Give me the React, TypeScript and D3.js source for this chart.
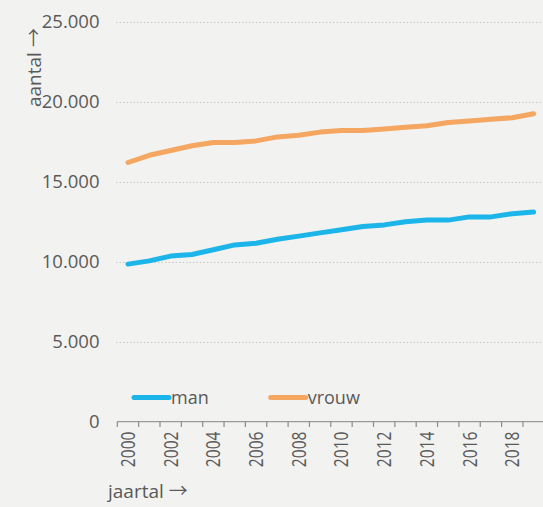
import React from "react";
import * as d3 from "d3";

const years = [2000, 2001, 2002, 2003, 2004, 2005, 2006, 2007, 2008, 2009, 2010, 2011, 2012, 2013, 2014, 2015, 2016, 2017, 2018, 2019];
const man = [9850, 10050, 10350, 10450, 10750, 11050, 11150, 11400, 11600, 11800, 12000, 12200, 12300, 12500, 12600, 12600, 12800, 12800, 13000, 13100];
const vrouw = [16200, 16650, 16950, 17250, 17450, 17450, 17550, 17800, 17900, 18100, 18200, 18200, 18300, 18400, 18500, 18700, 18800, 18900, 19000, 19250];
const yTicks = [0, 5000, 10000, 15000, 20000, 25000];
const seriesNames = ["man", "vrouw"];
const xTitle = "jaartal";
const yTitle = "aantal";
const arrow = "→";

const W = 543;
const H = 507;
const BG = "#f2f2f0";
const TEXT = "#595959";
const COLORS = ["#1cb5e9", "#f5a661"];
const FONT = "'Open Sans', sans-serif";
const ARROW_FONT = "'Noto Sans CJK SC', 'DejaVu Sans', sans-serif";

export default function App() {
  const x = d3.scaleBand<number>().domain(years).range([117.3, 544.3]).paddingInner(0).paddingOuter(0);
  const y = d3.scaleLinear().domain([0, 25000]).range([421.7, 21.7]);
  const fmt = (v: number) => d3.format(",")(v).replace(/,/g, ".");
  const line = d3
    .line<number>()
    .x((_, i) => (x(years[i]) as number) + x.bandwidth() / 2)
    .y((d) => y(d))
    .curve(d3.curveLinear);
  const series = [man, vrouw];
  const legendX = [134, 270.7];
  const legendY = 397.5;

  return (
    <div style={{ position: "fixed", left: 0, top: 0, width: W, height: H }}>
      <svg width={W} height={H} style={{ display: "block", fontFamily: FONT }}>
        <rect x={0} y={0} width={W} height={H} fill={BG} />
        {yTicks.filter((t) => t > 0).map((t) => (
          <line key={t} x1={116} x2={W} y1={Math.round(y(t)) + 0.5} y2={Math.round(y(t)) + 0.5} stroke="#c8c8c8" strokeWidth={1} strokeDasharray="1.5,2" />
        ))}
        {yTicks.map((t) => (
          <text key={t} x={99.5} y={y(t)} dy="0.36em" textAnchor="end" fontSize={18.5} fill={TEXT}>
            {fmt(t)}
          </text>
        ))}
        <line x1={117} x2={W} y1={421.7} y2={421.7} stroke="#9a9a9a" strokeWidth={1.3} />
        {years.map((yr) => (
          <line key={yr} x1={(x(yr) as number)} x2={(x(yr) as number)} y1={421.7} y2={427} stroke="#8a8a8a" strokeWidth={1.2} />
        ))}
        {years.filter((yr) => yr % 2 === 0).map((yr) => {
          const cx = (x(yr) as number) + x.bandwidth() / 2;
          return (
            <text key={yr} transform={`translate(${cx},431.5) rotate(-90) scale(0.8,1)`} dy="0.36em" textAnchor="end" fontSize={19.5} fill={TEXT}>
              {yr}
            </text>
          );
        })}
        {series.map((s, i) => (
          <path key={i} d={line(s) || ""} fill="none" stroke={COLORS[i]} strokeWidth={5} strokeLinecap="round" strokeLinejoin="round" />
        ))}
        {seriesNames.map((n, i) => (
          <g key={n}>
            <line x1={legendX[i]} x2={legendX[i] + 35} y1={legendY} y2={legendY} stroke={COLORS[i]} strokeWidth={5} strokeLinecap="round" />
            <text x={legendX[i] + 37} y={legendY} dy="0.36em" fontSize={18} fill={TEXT}>
              {n}
            </text>
          </g>
        ))}
        <text x={108} y={498} fontSize={19} fill={TEXT}>
          {xTitle}
          <tspan dx={5} fontFamily={ARROW_FONT} fontSize={19}>{arrow}</tspan>
        </text>
        <text transform="translate(41,107) rotate(-90)" fontSize={19} fill={TEXT}>
          {yTitle}
          <tspan dx={5} fontFamily={ARROW_FONT} fontSize={19}>{arrow}</tspan>
        </text>
      </svg>
    </div>
  );
}
